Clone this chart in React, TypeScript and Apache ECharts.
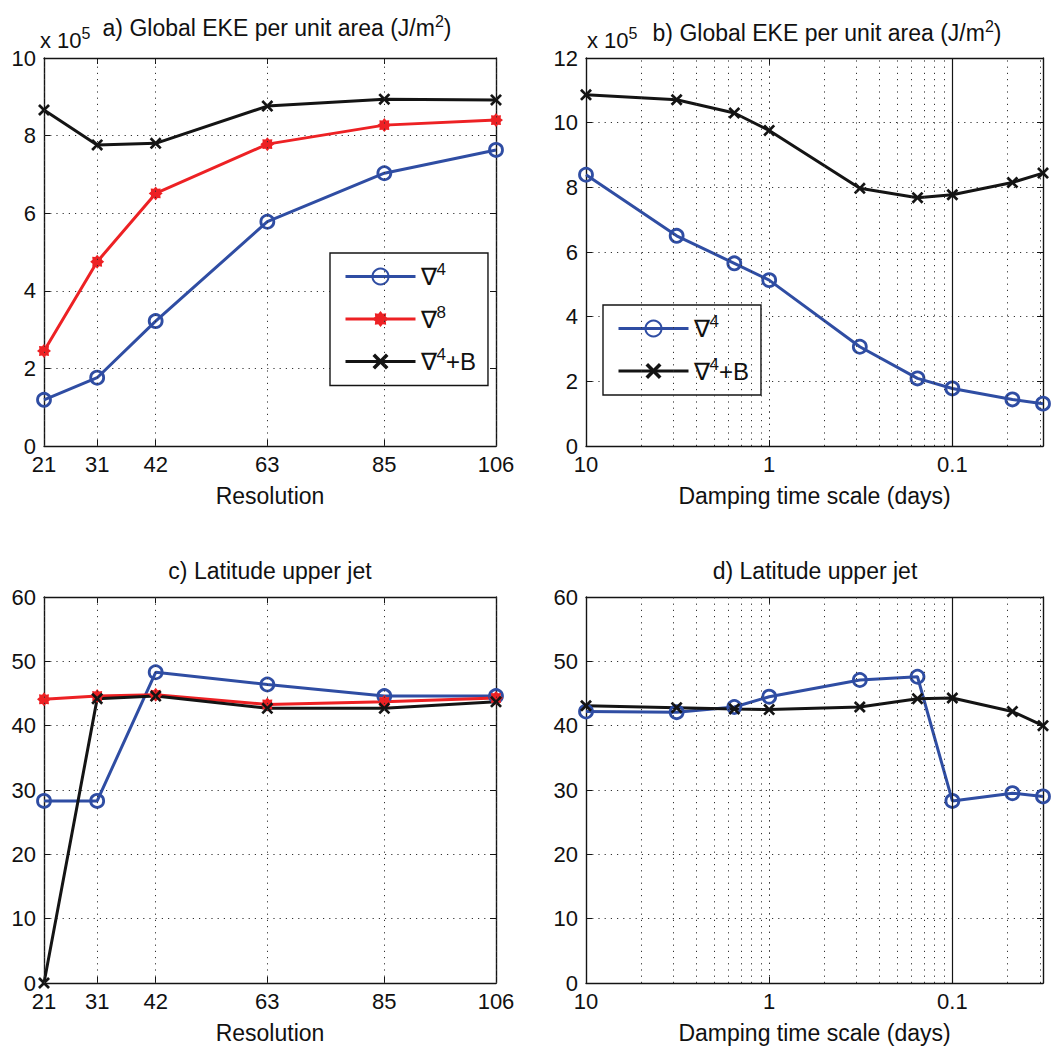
import React, { useEffect, useRef } from 'react';
import * as echarts from 'echarts';

const FONT = '"Liberation Sans", Arial, Helvetica, sans-serif';
const BLUE = '#2f4da3';
const RED = '#ed2124';
const BLACK = '#141414';

// ---------- data ----------
// panels a & c : model resolution
const resolution = [21, 31, 42, 63, 85, 106];
const resolutionTicks = [21, 31, 42, 63, 85, 106];
// panels b & d : damping time scale (days)
const dampingDays = [10, 3.2, 1.55, 1, 0.32, 0.155, 0.1, 0.047, 0.032];
const dampingAxisMaxRate = 31.25; // 1 / 0.032 days
// minor grid (in damping rate, 1/days)
const dampingRateMinorGrid = [0.2, 0.3, 0.4, 0.5, 0.6, 0.7, 0.8, 0.9, 2, 3, 4, 5, 6, 7, 8, 9, 20, 30];
const dampingRateSolidLine = [10];

// a) Global EKE (x 10^5 J/m^2) vs resolution
const ekeResNabla4 = [1.19, 1.76, 3.22, 5.78, 7.03, 7.63];
const ekeResNabla8 = [2.45, 4.75, 6.51, 7.78, 8.27, 8.4];
const ekeResNabla4B = [8.66, 7.76, 7.8, 8.76, 8.94, 8.92];
// b) Global EKE vs damping time scale
const ekeDampNabla4 = [8.39, 6.5, 5.65, 5.13, 3.07, 2.09, 1.78, 1.44, 1.31];
const ekeDampNabla4B = [10.86, 10.71, 10.3, 9.76, 7.97, 7.68, 7.77, 8.15, 8.44];
// c) Latitude upper jet vs resolution
const jetResNabla4 = [28.3, 28.3, 48.3, 46.4, 44.6, 44.6];
const jetResNabla8 = [44.1, 44.6, 44.8, 43.3, 43.7, 44.3];
const jetResNabla4B = [0, 44.2, 44.6, 42.7, 42.7, 43.7];
// d) Latitude upper jet vs damping time scale
const jetDampNabla4 = [42.2, 42.1, 42.9, 44.5, 47.1, 47.6, 28.3, 29.5, 29.0];
const jetDampNabla4B = [43.1, 42.8, 42.6, 42.5, 42.9, 44.2, 44.3, 42.2, 40.0];

const N4 = '∇4';
const N8 = '∇8';
const N4B = '∇4+B';

// ---------- markers ----------
function starPath(): string {
  const pts: string[] = [];
  for (let k = 0; k < 16; k++) {
    const a = ((-90 + k * 22.5) * Math.PI) / 180;
    const r = k % 2 === 0 ? 5 : 3.6;
    pts.push(`${(5 + r * Math.cos(a)).toFixed(3)},${(5 + r * Math.sin(a)).toFixed(3)}`);
  }
  return 'path://M' + pts.join('L') + 'Z';
}
const STAR = starPath();
const XMARK = 'path://M1.6,0L5,3.4L8.4,0L10,1.6L6.6,5L10,8.4L8.4,10L5,6.6L1.6,10L0,8.4L3.4,5L0,1.6Z';

const DOT = { color: '#333', width: 1, type: [1.2, 5] as number[] };

type Kind = 'circle' | 'star' | 'x';
function lineSeries(name: string, g: number, xs: number[], ys: number[], kind: Kind) {
  const color = kind === 'circle' ? BLUE : kind === 'star' ? RED : BLACK;
  return {
    type: 'line',
    name,
    xAxisIndex: 2 * g,
    yAxisIndex: 2 * g,
    data: xs.map((x, i) => [x, ys[i]]),
    symbol: kind === 'circle' ? 'circle' : kind === 'star' ? STAR : XMARK,
    symbolSize: kind === 'circle' ? 13 : kind === 'star' ? 14 : 12,
    showAllSymbol: true,
    lineStyle: { color, width: 3 },
    itemStyle:
      kind === 'circle'
        ? { color: 'rgba(255,255,255,0)', borderColor: color, borderWidth: 2.8 }
        : { color, borderWidth: 0 },
    emphasis: { disabled: true },
    clip: false,
    z: 3,
  };
}

function gridSeries(g: number, xs: number[], solid: number[] = []) {
  return {
    type: 'line',
    xAxisIndex: 2 * g,
    yAxisIndex: 2 * g,
    data: [],
    silent: true,
    z: 1,
    markLine: {
      silent: true,
      symbol: ['none', 'none'],
      label: { show: false },
      emphasis: { disabled: true },
      lineStyle: DOT,
      data: [
        ...xs.map((v) => ({ xAxis: v })),
        ...solid.map((v) => ({ xAxis: v, lineStyle: { type: 'solid', color: BLACK, width: 1.2 } })),
      ],
    },
  };
}

const axisLine = { show: true, onZero: false, lineStyle: { color: BLACK, width: 1.4 } };
const axisTick = { show: true, inside: true, length: 6, lineStyle: { color: BLACK, width: 1 } };
const labelBase = { color: '#111', fontSize: 22, fontFamily: FONT };
const nameStyle = { color: '#111', fontSize: 23, fontFamily: FONT };

function resXAxes(g: number, withName: boolean) {
  const base = { type: 'value', gridIndex: g, min: 21, max: 106, splitLine: { show: false } };
  return [
    {
      ...base,
      position: 'bottom',
      axisLine,
      axisTick: { ...axisTick, customValues: resolutionTicks },
      axisLabel: { ...labelBase, margin: 7, customValues: resolutionTicks },
      name: withName ? 'Resolution' : '',
      nameLocation: 'middle',
      nameGap: 38,
      nameTextStyle: nameStyle,
    },
    {
      ...base,
      position: 'top',
      axisLine,
      axisTick: { ...axisTick, customValues: resolutionTicks },
      axisLabel: { show: false, customValues: resolutionTicks },
    },
  ];
}

function fmtDays(rate: number) {
  return String(+(1 / rate).toPrecision(3));
}

function dampXAxes(g: number) {
  const base = {
    type: 'log',
    logBase: 10,
    gridIndex: g,
    min: 1 / dampingDays[0],
    max: dampingAxisMaxRate,
    splitLine: { show: true, lineStyle: DOT },
  };
  return [
    {
      ...base,
      position: 'bottom',
      axisLine,
      axisTick,
      axisLabel: { ...labelBase, margin: 7, formatter: fmtDays, showMaxLabel: false },
      name: 'Damping time scale (days)',
      nameLocation: 'middle',
      nameGap: 38,
      nameTextStyle: nameStyle,
    },
    { ...base, position: 'top', axisLine, axisTick, axisLabel: { show: false } },
  ];
}

function yAxes(g: number, max: number, interval: number) {
  const base = {
    type: 'value',
    gridIndex: g,
    min: 0,
    max,
    interval,
    splitLine: { show: true, lineStyle: DOT },
  };
  return [
    { ...base, position: 'left', axisLine, axisTick, axisLabel: { ...labelBase, margin: 8 } },
    { ...base, position: 'right', axisLine, axisTick, axisLabel: { show: false }, splitLine: { show: false } },
  ];
}

const supRich = {
  s: { fontSize: 17, fontFamily: FONT, color: '#111', padding: [0, 0, 14, 0] },
};

function titleText(x: number, y: number, text: string, align: string = 'center') {
  return {
    type: 'text',
    x,
    y,
    silent: true,
    style: {
      text,
      fill: '#111',
      fontSize: 23,
      fontFamily: FONT,
      align,
      verticalAlign: 'middle',
      rich: {
        s: { fontSize: 16, fontFamily: FONT, fill: '#111', padding: [0, 0, 14, 0] },
      },
    },
  };
}
function expText(x: number, y: number) {
  return {
    type: 'text',
    x,
    y,
    silent: true,
    style: {
      text: 'x 10{s|5}',
      fill: '#111',
      fontSize: 22,
      fontFamily: FONT,
      align: 'left',
      verticalAlign: 'middle',
      rich: {
        s: { fontSize: 16, fontFamily: FONT, fill: '#111', padding: [0, 0, 14, 0] },
      },
    },
  };
}

function legendFor(left: number, top: number, names: string[], gap: number) {
  return {
    left,
    top,
    orient: 'vertical',
    data: names,
    itemWidth: 70,
    itemHeight: 20,
    itemGap: gap,
    padding: [8, 12, 12, 14],
    borderColor: BLACK,
    borderWidth: 1.4,
    backgroundColor: '#fff',
    selectedMode: false,
    lineStyle: { width: 3 },
    formatter: (n: string) => n.replace(/(\d)/, '{s|$1}'),
    textStyle: { fontSize: 24, fontFamily: FONT, color: '#111', rich: supRich },
  };
}

function buildOption() {
  const rates = dampingDays.map((d) => 1 / d);
  return {
    animation: false,
    backgroundColor: '#fff',
    grid: [
      { left: 44, top: 58, width: 452, height: 388 },
      { left: 586, top: 58, width: 457, height: 388 },
      { left: 44, top: 597, width: 452, height: 386 },
      { left: 586, top: 597, width: 457, height: 386 },
    ],
    xAxis: [...resXAxes(0, true), ...dampXAxes(1), ...resXAxes(2, true), ...dampXAxes(3)],
    yAxis: [...yAxes(0, 10, 2), ...yAxes(1, 12, 2), ...yAxes(2, 60, 10), ...yAxes(3, 60, 10)],
    legend: [legendFor(330, 253, [N4, N8, N4B], 15), legendFor(603, 305, [N4, N4B], 15)],
    graphic: [
      expText(40, 40),
      titleText(277, 28, 'a) Global EKE per unit area (J/m{s|2})'),
      expText(587, 40),
      titleText(827, 33, 'b) Global EKE per unit area (J/m{s|2})'),
      titleText(270, 571, 'c) Latitude upper jet'),
      titleText(815, 571, 'd) Latitude upper jet'),
    ],
    series: [
      gridSeries(0, resolutionTicks),
      lineSeries(N4, 0, resolution, ekeResNabla4, 'circle'),
      lineSeries(N8, 0, resolution, ekeResNabla8, 'star'),
      lineSeries(N4B, 0, resolution, ekeResNabla4B, 'x'),

      gridSeries(1, dampingRateMinorGrid, dampingRateSolidLine),
      lineSeries(N4, 1, rates, ekeDampNabla4, 'circle'),
      lineSeries(N4B, 1, rates, ekeDampNabla4B, 'x'),

      gridSeries(2, resolutionTicks),
      lineSeries(N4, 2, resolution, jetResNabla4, 'circle'),
      lineSeries(N8, 2, resolution, jetResNabla8, 'star'),
      lineSeries(N4B, 2, resolution, jetResNabla4B, 'x'),

      gridSeries(3, dampingRateMinorGrid, dampingRateSolidLine),
      lineSeries(N4, 3, rates, jetDampNabla4, 'circle'),
      lineSeries(N4B, 3, rates, jetDampNabla4B, 'x'),
    ],
  };
}

export default function App() {
  const ref = useRef<HTMLDivElement>(null);
  useEffect(() => {
    if (!ref.current) return;
    const chart = echarts.init(ref.current, undefined, { renderer: 'svg' });
    chart.setOption(buildOption() as any);
    return () => chart.dispose();
  }, []);
  return (
    <div
      ref={ref}
      style={{ position: 'fixed', left: 0, top: 0, width: 1052, height: 1047, background: '#fff' }}
    />
  );
}
